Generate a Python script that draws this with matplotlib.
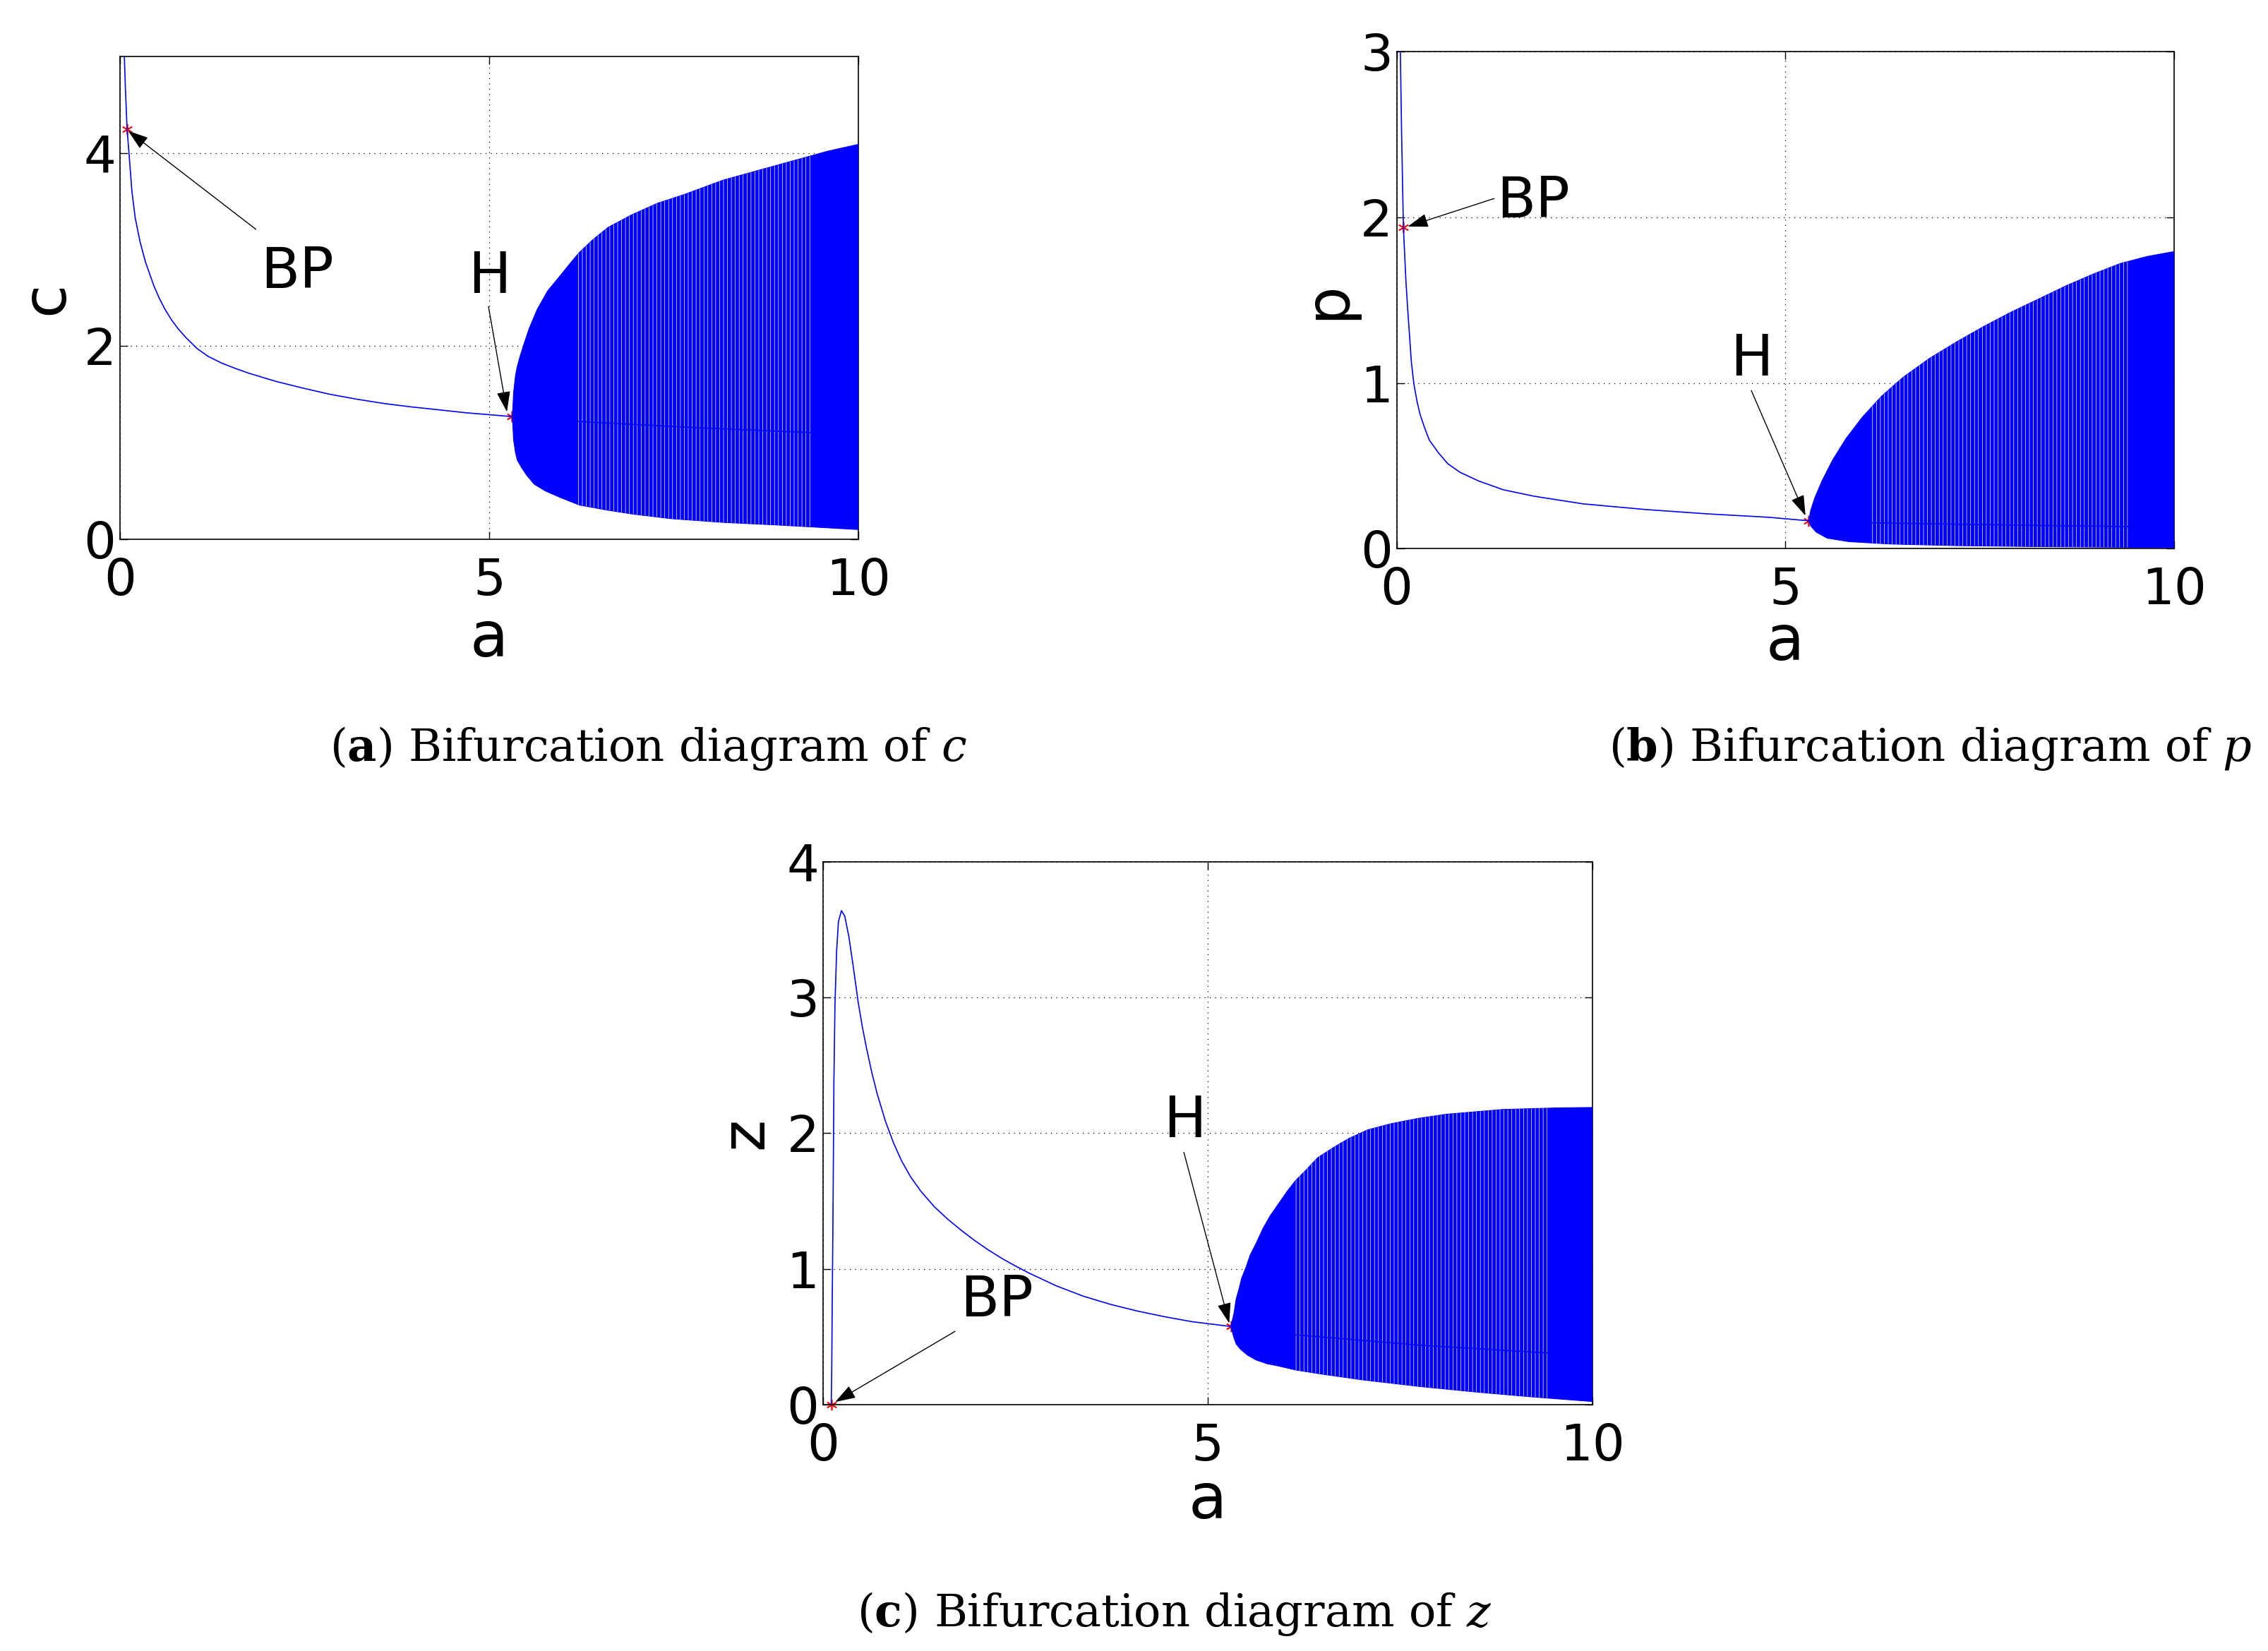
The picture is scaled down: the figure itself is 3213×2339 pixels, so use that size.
import matplotlib
matplotlib.use('Agg')
import matplotlib.pyplot as plt
import numpy as np

plt.rcParams['font.family'] = ['DejaVu Sans']
plt.rcParams['mathtext.fontset'] = 'dejavuserif'
plt.rcParams['hatch.linewidth'] = 0.5

BLUE = '#0000ff'

# ---- panel (a): c versus a ----
a_eq_c = [0.059, 0.073, 0.096, 0.125, 0.162, 0.206, 0.272, 0.346, 0.456, 0.530,
          0.603, 0.695, 0.787, 0.897, 1.044, 1.191, 1.375, 1.559, 1.743, 2.11,
          2.478, 2.85, 3.21, 3.58, 3.95, 4.32, 4.68, 5.31]
c_eq = [5.0, 4.68, 4.25, 3.97, 3.60, 3.33, 3.08, 2.87, 2.63, 2.50,
        2.39, 2.275, 2.18, 2.085, 1.975, 1.895, 1.825, 1.77, 1.72, 1.635,
        1.565, 1.50, 1.45, 1.405, 1.37, 1.34, 1.31, 1.27]
a_unst_c = [5.31, 6.19, 7.79, 9.35, 10.0]
c_unst = [1.27, 1.22, 1.155, 1.105, 1.09]
a_up_c = [5.31, 5.32, 5.33, 5.355, 5.38, 5.42, 5.47, 5.54, 5.65, 5.79, 5.93, 6.11,
          6.22, 6.40, 6.61, 6.93, 7.28, 7.64, 8.17, 8.88, 9.59, 10.0]
c_up = [1.27, 1.36, 1.52, 1.69, 1.79, 1.90, 2.02, 2.18, 2.38, 2.57, 2.70, 2.87,
        2.97, 3.10, 3.23, 3.36, 3.48, 3.57, 3.72, 3.87, 4.02, 4.09]
a_lo_c = [5.31, 5.32, 5.33, 5.355, 5.38, 5.44, 5.51, 5.61, 5.76, 5.97, 6.22, 6.57,
          6.93, 7.46, 8.17, 8.88, 10.0]
c_lo = [1.27, 1.18, 1.03, 0.90, 0.82, 0.74, 0.66, 0.57, 0.50, 0.43, 0.354, 0.305,
        0.262, 0.213, 0.174, 0.148, 0.10]
stripes_c = (6.19, 9.35)
bp_c = (0.096, 4.25)
h_c = (5.31, 1.27)

# ---- panel (b): p versus a ----
a_eq_p = [0.048, 0.063, 0.087, 0.119, 0.143, 0.167, 0.19, 0.222, 0.262, 0.302,
          0.357, 0.42, 0.54, 0.659, 0.817, 1.056, 1.373, 1.77, 2.40, 3.20,
          3.99, 4.79, 5.30]
p_eq = [3.0, 2.53, 1.94, 1.62, 1.44, 1.28, 1.124, 0.994, 0.89, 0.81,
        0.734, 0.656, 0.578, 0.513, 0.461, 0.409, 0.356, 0.317, 0.271, 0.237,
        0.211, 0.19, 0.169]
a_unst_p = [5.30, 6.11, 7.91, 10.0]
p_unst = [0.169, 0.157, 0.143, 0.131]
a_up_p = [5.30, 5.33, 5.38, 5.47, 5.61, 5.78, 5.99, 6.24, 6.52, 6.86, 7.21, 7.56,
          7.91, 8.26, 8.61, 8.96, 9.31, 9.66, 10.0]
p_up = [0.169, 0.236, 0.307, 0.407, 0.536, 0.664, 0.793, 0.921, 1.036, 1.15, 1.25, 1.343,
        1.429, 1.507, 1.586, 1.657, 1.721, 1.764, 1.793]
a_lo_p = [5.30, 5.33, 5.40, 5.54, 5.82, 6.34, 7.21, 8.26, 10.0]
p_lo = [0.169, 0.136, 0.10, 0.064, 0.043, 0.029, 0.019, 0.013, 0.007]
stripes_p = (6.11, 9.45)
bp_p = (0.087, 1.94)
h_p = (5.30, 0.169)

# ---- panel (c): z versus a ----
a_eq_z = [0.106, 0.113, 0.12, 0.127, 0.134, 0.141, 0.155, 0.176, 0.20, 0.239, 0.282,
          0.335, 0.387, 0.458, 0.511, 0.563, 0.634, 0.704, 0.81, 0.915, 1.021,
          1.14, 1.268, 1.444, 1.62, 1.796, 1.97, 2.148, 2.324, 2.5, 2.676, 3.03,
          3.38, 3.73, 4.085, 4.44, 4.79, 5.30]
z_eq = [0.0, 0.266, 0.81, 1.23, 1.80, 2.38, 2.95, 3.34, 3.56, 3.64, 3.60,
        3.45, 3.25, 2.96, 2.783, 2.632, 2.447, 2.29, 2.09, 1.93, 1.796,
        1.677, 1.575, 1.46, 1.367, 1.285, 1.21, 1.14, 1.078, 1.022, 0.97, 0.876,
        0.80, 0.74, 0.69, 0.648, 0.612, 0.576]
a_unst_z = [5.30, 6.12, 7.74, 9.42, 10.0]
z_unst = [0.576, 0.516, 0.439, 0.381, 0.37]
a_up_z = [5.30, 5.34, 5.37, 5.41, 5.44, 5.50, 5.55, 5.63, 5.72, 5.81, 5.92, 6.03,
          6.14, 6.28, 6.43, 6.65, 6.83, 7.08, 7.38, 7.74, 8.10, 8.83, 9.56, 10.0]
z_up = [0.576, 0.67, 0.78, 0.86, 0.93, 1.016, 1.10, 1.19, 1.30, 1.39, 1.48, 1.57,
        1.65, 1.73, 1.82, 1.90, 1.96, 2.025, 2.07, 2.11, 2.14, 2.175, 2.187, 2.19]
a_lo_z = [5.30, 5.34, 5.37, 5.43, 5.52, 5.63, 5.77, 5.92, 6.14, 6.46, 7.01, 7.74,
          8.47, 9.20, 10.0]
z_lo = [0.576, 0.495, 0.447, 0.406, 0.364, 0.329, 0.302, 0.285, 0.256, 0.227, 0.183, 0.135,
        0.094, 0.058, 0.023]
stripes_z = (6.12, 9.43)
bp_z = (0.106, 0.0)
h_z = (5.30, 0.576)

x_ticks = [0, 5, 10]


def draw_panel(ax, a_eq, y_eq, a_un, y_un, a_up, y_up, a_lo, y_lo, stripes,
               bp, h, ymax, yticks, ylab, ylab_x, xlab_y, labels, arrows):
    ax.set_xlim(0, 10)
    ax.set_ylim(0, ymax)
    ax.set_xticks(x_ticks)
    ax.set_yticks(yticks)
    ax.set_axisbelow(True)
    ax.grid(True, color='k', linestyle=(0, (1, 5)), linewidth=0.9)
    ax.tick_params(direction='in', length=8, width=1.0, top=True, right=True,
                   labelsize=52)
    ax.tick_params(axis='x', pad=18)
    ax.tick_params(axis='y', pad=4)
    for s in ax.spines.values():
        s.set_linewidth(1.2)

    # special points (partly hidden by the cycle family)
    ax.plot([bp[0], h[0]], [bp[1], h[1]], linestyle='none', marker=(6, 2, 0),
            markersize=11, markeredgewidth=1.2, color='red', zorder=2, clip_on=False)

    # family of limit cycles: envelope filled, with thin gaps in the middle part
    xs = np.concatenate([a_up, a_lo[::-1]])
    ys = np.concatenate([y_up, y_lo[::-1]])
    poly = ax.fill(xs, ys, color=BLUE, linewidth=0.8, zorder=3)[0]
    gaps = ax.axvspan(stripes[0], stripes[1], facecolor='none', edgecolor='white',
                      hatch='|||', linewidth=0, zorder=3.5)
    gaps.set_clip_path(poly)

    ax.plot(a_eq, y_eq, color=BLUE, linewidth=1.2, zorder=4)
    ax.plot(a_un, y_un, color=BLUE, linewidth=1.2, zorder=4)

    for txt, (tx, ty) in labels:
        ax.text(tx, ty, txt, fontsize=58, ha='center', va='baseline', zorder=6)
    for (x0, y0), (x1, y1) in arrows:
        ax.annotate('', xy=(x1, y1), xytext=(x0, y0),
                    arrowprops=dict(arrowstyle='-|>,head_length=0.6,head_width=0.2',
                                    color='k', lw=1.0, shrinkA=0, shrinkB=0,
                                    mutation_scale=30),
                    zorder=6)

    ax.text(ylab_x, 0.5, ylab, transform=ax.transAxes, rotation=90,
            ha='center', va='center', fontsize=62)
    ax.text(0.5, xlab_y, 'a', transform=ax.transAxes,
            ha='center', va='center', fontsize=64)


fig = plt.figure(figsize=(32.13, 23.39), dpi=100)

ax1 = fig.add_axes([0.0529, 0.6734, 0.3256, 0.2924])
draw_panel(ax1, a_eq_c, c_eq, a_unst_c, c_unst, np.array(a_up_c), np.array(c_up),
           np.array(a_lo_c), np.array(c_lo), stripes_c, bp_c, h_c, 5, [0, 2, 4],
           'c', -0.100, -0.2076,
           [('BP', (2.40, 2.60)), ('H', (5.0, 2.55))],
           [((1.84, 3.21), (0.11, 4.23)), ((4.99, 2.41), (5.24, 1.32))])

ax2 = fig.add_axes([0.6158, 0.6676, 0.3427, 0.3012])
draw_panel(ax2, a_eq_p, p_eq, a_unst_p, p_unst, np.array(a_up_p), np.array(p_up),
           np.array(a_lo_p), np.array(p_lo), stripes_p, bp_p, h_p, 3, [0, 1, 2, 3],
           'p', -0.089, -0.1895,
           [('BP', (1.755, 2.0)), ('H', (4.567, 1.046))],
           [((1.254, 2.113), (0.143, 1.944)), ((4.563, 0.955), (5.26, 0.20))])

ax3 = fig.add_axes([0.3629, 0.1492, 0.3392, 0.3288])
draw_panel(ax3, a_eq_z, z_eq, a_unst_z, z_unst, np.array(a_up_z), np.array(z_up),
           np.array(a_lo_z), np.array(z_lo), stripes_z, bp_z, h_z, 4, [0, 1, 2, 3, 4],
           'z', -0.10, -0.178,
           [('BP', (2.254, 0.65)), ('H', (4.70, 1.97))],
           [((1.715, 0.54), (0.158, 0.02)), ((4.69, 1.86), (5.28, 0.60))])

cap_kw = dict(ha='center', va='baseline', fontsize=46, family='DejaVu Serif')
fig.text(0.2857, 0.539, r'($\mathbf{a}$) Bifurcation diagram of $c$', **cap_kw)
fig.text(0.8512, 0.539, r'($\mathbf{b}$) Bifurcation diagram of $p$', **cap_kw)
fig.text(0.5179, 0.015, r'($\mathbf{c}$) Bifurcation diagram of $z$', **cap_kw)

fig.savefig('out.png', dpi=100)
